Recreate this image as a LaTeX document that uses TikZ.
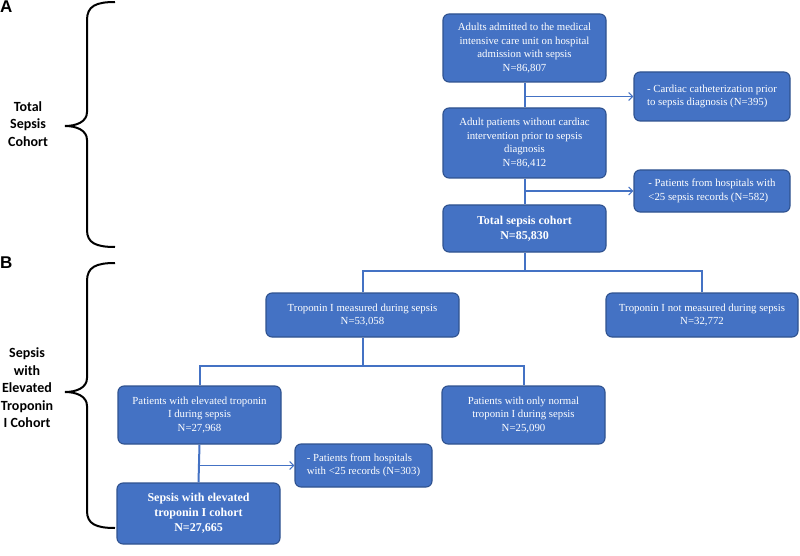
\documentclass[tikz,border=0pt]{standalone}
\usepackage{fontspec}
\setmainfont{Liberation Serif}
\newfontfamily\lblfont{Carlito}
\newfontfamily\letterfont{Liberation Sans}
\usetikzlibrary{arrows.meta}
\definecolor{boxfill}{HTML}{4472C4}
\definecolor{boxedge}{HTML}{2F528F}
\definecolor{linecol}{HTML}{4472C4}
\tikzset{
  flowbox/.style={draw=boxedge, line width=1.1pt, fill=boxfill, rounded corners=6pt,
    text=white, align=center, inner sep=2pt,
    font=\fontsize{10.8}{13.5}\selectfont},
  boldbox/.style={flowbox, font=\fontsize{12}{14.8}\selectfont\bfseries},
  exclbox/.style={flowbox, align=left},
  conn/.style={draw=linecol, line width=2pt},
  exarrow/.style={draw=linecol, line width=1.1pt, -{Straight Barb[length=4pt,width=8pt]}},
  bracepath/.style={draw=black, line width=2pt},
  sidelabel/.style={align=center, font=\fontsize{14}{17.5}\selectfont\lblfont\bfseries},
  letterlabel/.style={font=\fontsize{17}{20}\selectfont\letterfont\bfseries, inner sep=0pt}
}
\begin{document}
\begin{tikzpicture}[x=1pt, y=-1pt]
\useasboundingbox (0,0) rectangle (800,556);

% boxes
\node[flowbox, minimum width=163pt, minimum height=68pt] (b1) at (524.5,48)
  {Adults admitted to the medical\\intensive care unit on hospital\\admission with sepsis\\N=86,807};
\node[exclbox, minimum width=156pt, minimum height=49pt] (e1) at (712,96.5)
  {- Cardiac catheterization prior\\to sepsis diagnosis (N=395)};
\node[flowbox, minimum width=163pt, minimum height=70pt] (b2) at (524.5,143)
  {Adult patients without cardiac\\intervention prior to sepsis\\diagnosis\\N=86,412};
\node[exclbox, minimum width=156pt, minimum height=42pt] (e2) at (712,191)
  {- Patients from hospitals with\\<25 sepsis records (N=582)};
\node[boldbox, minimum width=163pt, minimum height=47pt] (b3) at (524.5,228.5)
  {Total sepsis cohort\\N=85,830};
\node[flowbox, minimum width=193pt, minimum height=44pt] (m) at (362.5,315)
  {Troponin I measured during sepsis\\N=53,058};
\node[flowbox, minimum width=192pt, minimum height=44pt] (nm) at (702,315)
  {Troponin I not measured during sepsis\\N=32,772};
\node[flowbox, minimum width=163pt, minimum height=58pt] (el) at (199.5,415)
  {Patients with elevated troponin\\I during sepsis\\N=27,968};
\node[flowbox, minimum width=163pt, minimum height=58pt] (nr) at (523.5,415)
  {Patients with only normal\\troponin I during sepsis\\N=25,090};
\node[exclbox, minimum width=137pt, minimum height=43pt] (e3) at (363.5,465.5)
  {- Patients from hospitals\\with <25 records (N=303)};
\node[boldbox, minimum width=163pt, minimum height=61pt] (fin) at (198.5,513.5)
  {Sepsis with elevated\\troponin I cohort\\N=27,665};

% connectors
\coordinate (j1) at (524,271);
\coordinate (j2) at (362,366);
\draw[conn] (b1.south) -- (b2.north);
\draw[conn] (b2.south) -- (b3.north);
\draw[exarrow] (b1.south |- e1.west) -- (e1.west);
\draw[exarrow] (b2.south |- e2.west) -- (e2.west);
\draw[conn] (b3.south) -- (b3.south |- j1);
\draw[conn] (m.north) -- (m.north |- j1) -- (nm.north |- j1) -- (nm.north);
\draw[conn] (m.south) -- (m.south |- j2);
\draw[conn] (el.north) -- (el.north |- j2) -- (nr.north |- j2) -- (nr.north);
\draw[conn] (el.south) -- (fin.north);
\draw[exarrow] (el.south |- e3.west) -- (e3.west);

% braces
\draw[bracepath] (115,2) .. controls (96,2) and (87,6) .. (87,20) -- (87,112)
  .. controls (87,122) and (76,126) .. (65,126)
  .. controls (76,126) and (87,130) .. (87,140) -- (87,230)
  .. controls (87,243) and (96,247) .. (115,247);
\draw[bracepath] (115,263) .. controls (96,263) and (87,267) .. (87,281) -- (87,378)
  .. controls (87,388) and (76,392) .. (65,392)
  .. controls (76,392) and (87,396) .. (87,406) -- (87,511)
  .. controls (87,524) and (96,528) .. (115,528);

% labels
\node[letterlabel, anchor=north west] (la) at (0,1) {A};
\node[letterlabel, anchor=north west] (lb) at (0,257) {B};
\node[sidelabel] (ta) at (28,124) {Total\\Sepsis\\Cohort};
\node[sidelabel] (tb) at (27,388) {Sepsis\\with\\Elevated\\Troponin\\I Cohort};
\end{tikzpicture}
\end{document}
